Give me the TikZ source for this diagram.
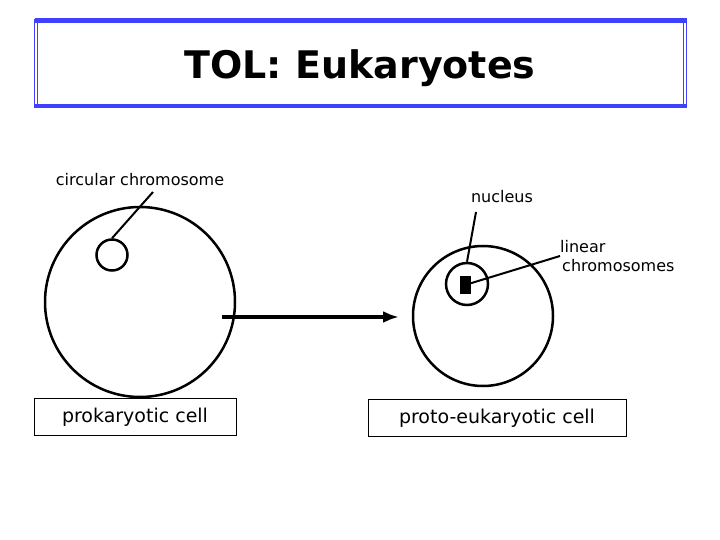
\documentclass[tikz,border=0pt]{standalone}
\usepackage{fontspec}
\setmainfont{DejaVu Sans}
\usetikzlibrary{arrows.meta}
\begin{document}
\begin{tikzpicture}[x=1pt,y=-1pt,
% common options for labels:
lbl/.style = {inner sep=0, font=\fontsize{16}{19}\selectfont},
% common options for the framed captions:
caption/.style = {draw, line width=0.8pt, inner sep=3pt, minimum height=37pt, font=\fontsize{19}{22}\selectfont}]
\useasboundingbox (0,0) rectangle (720,540);
\draw[blue!75, line width=5pt] (35,21) -- (687,21);
\draw[blue!75, line width=4pt] (35,106) -- (687,106);
\draw[blue!75, line width=0.8pt] (34,19) -- (34,108);
\draw[blue!75, line width=0.8pt] (37,19) -- (37,108);
\draw[blue!75, line width=0.8pt] (686,19) -- (686,108);
\draw[blue!75, line width=0.8pt] (683,19) -- (683,108);
\node[inner sep=0, font=\fontsize{38}{42}\selectfont\bfseries] (title) at (360,68) {TOL: Eukaryotes};
% prokaryotic cell
\node[circle, draw, line width=2.5pt, minimum size=190pt] (cellA) at (140,302) {};
\node[circle, draw, line width=2.5pt, minimum size=31pt] (chromA) at (112,255) {};
\node[lbl] (circLbl) at (140,180) {circular chromosome};
\coordinate (circPt) at (153,192);
\draw[line width=2pt] (circPt) -- (chromA.north);
\node[caption, minimum width=202pt] (capA) at (135,417) {prokaryotic cell};
% proto-eukaryotic cell
\node[circle, draw, line width=2.5pt, minimum size=140pt] (cellB) at (483,316) {};
\node[circle, draw, line width=2.5pt, minimum size=42pt] (nuc) at (467,284) {};
\node[fill, minimum width=11pt, minimum height=18pt, inner sep=0] (lin) at (465,285) {};
\node[lbl] (nucLbl) at (502,197) {nucleus};
\coordinate (nucPt) at (476,212);
\draw[line width=2pt] (nucPt) -- (nuc.north);
\node[lbl, align=left, anchor=west] (linLbl) at (560,256) {linear\\\hspace*{2pt}chromosomes};
\coordinate (linPt) at (560,256);
\draw[line width=2pt] (lin.center) -- (linPt);
\node[caption, minimum width=258pt] (capB) at (497,418) {proto-eukaryotic cell};
% arrow between the cells
\draw[-{Latex[length=16pt,width=12pt]}, line width=3.5pt] (222,317) -- (399,317);
\end{tikzpicture}
\end{document}
